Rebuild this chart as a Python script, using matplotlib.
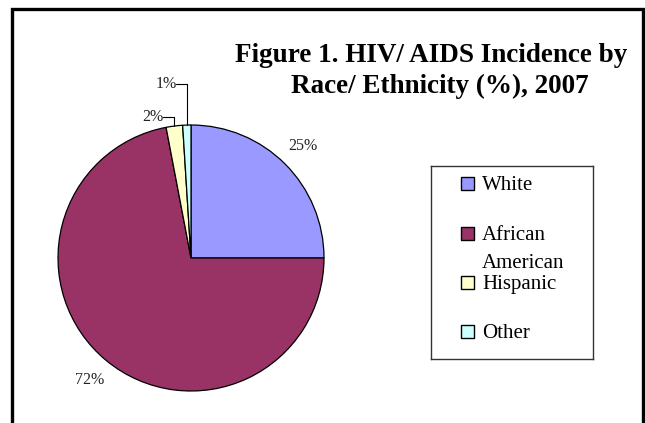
import matplotlib.pyplot as plt
from matplotlib.patches import Rectangle
import numpy as np

groups = ['White', 'African American', 'Hispanic', 'Other']
legend_labels = ['White', 'African\nAmerican', 'Hispanic', 'Other']
shares = [25, 72, 2, 1]
colors = ['#9999FF', '#993366', '#FFFFCC', '#CCFFFF']

plt.rcParams['font.family'] = ['Liberation Serif', 'DejaVu Serif']

W, H = 645, 423
fig = plt.figure(figsize=(W / 100, H / 100), dpi=100)

# outer chart border (bottom runs off the picture)
fig.patches.append(Rectangle((12 / W, -0.05), (643 - 12) / W, (423 - 9) / H + 0.05,
                             transform=fig.transFigure, fill=False, ec='black', lw=2.4))

# pie: centre (191, 258) px, radius 133 px
cx, cy, r = 191, 258, 133
ax = fig.add_axes([(cx - r) / W, (H - cy - r) / H, 2 * r / W, 2 * r / H])
wedges, _ = ax.pie(shares, colors=colors, startangle=90, counterclock=False,
                   wedgeprops=dict(edgecolor='black', linewidth=0.9))
ax.set_xlim(-1, 1)
ax.set_ylim(-1, 1)

# labels: big slices plain, small slices with leader lines
for i, w in enumerate(wedges):
    mid = np.deg2rad((w.theta1 + w.theta2) / 2)
    x, y = np.cos(mid), np.sin(mid)
    txt = f'{shares[i]}%'
    if shares[i] >= 10:
        ax.text(1.19 * x, 1.19 * y, txt, ha='center', va='center', fontsize=11.5, color='#222222')
    else:
        off = (-7.5, 29.5) if i == 3 else (-8, 6.5)
        ax.annotate(txt, xy=(x, y), xytext=off, textcoords='offset points',
                    ha='right', va='center', fontsize=11.5, color='#222222',
                    arrowprops=dict(arrowstyle='-', color='black', lw=0.8,
                                    connectionstyle='angle,angleA=0,angleB=90',
                                    relpos=(1, 0.5), shrinkA=0, shrinkB=0, patchA=None))

# title
fig.text(431 / W, 1 - 55 / H, 'Figure 1. HIV/ AIDS Incidence by', ha='center', va='center',
         fontsize=19.5, fontweight='bold')
fig.text(440 / W, 1 - 86 / H, 'Race/ Ethnicity (%), 2007', ha='center', va='center',
         fontsize=19.5, fontweight='bold')

# legend box drawn by hand to keep the two-line label layout
lx0, lx1, ly0, ly1 = 431, 593, 166, 359
lax = fig.add_axes([lx0 / W, (H - ly1) / H, (lx1 - lx0) / W, (ly1 - ly0) / H])
lax.set_xlim(lx0, lx1)
lax.set_ylim(ly1, ly0)
lax.set_xticks([])
lax.set_yticks([])
for s in lax.spines.values():
    s.set_linewidth(1.0)
    s.set_edgecolor('#333333')
row_y = [184, 233.5, 282.5, 331.5]
for lab, col, yy in zip(legend_labels, colors, row_y):
    lax.add_patch(Rectangle((461, yy - 6.5), 13, 13, fc=col, ec='black', lw=1.0))
    for k, line in enumerate(lab.split('\n')):
        lax.text(482, yy + 6.5 + 28 * k, line, ha='left', va='baseline', fontsize=15)

fig.savefig('out.png', dpi=100)
